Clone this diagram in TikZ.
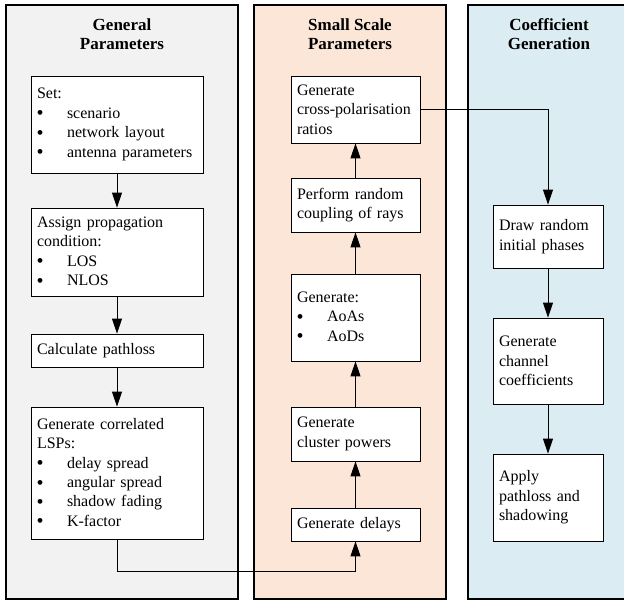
\documentclass[tikz,border=0pt]{standalone}
\usepackage{fontspec}
\setmainfont{Liberation Serif}
\usetikzlibrary{arrows.meta}
\definecolor{panelgray}{RGB}{242,242,242}
\definecolor{panelpeach}{RGB}{251,230,216}
\definecolor{panelblue}{RGB}{219,237,243}
% bullet entry with a fixed indent
\newcommand{\bitem}[1]{\makebox[30pt][l]{\hspace{-0.5pt}\raisebox{-1.6pt}{\fontsize{20}{0}\selectfont\textbullet}}#1}

\begin{document}
\begin{tikzpicture}[x=1pt,y=-1pt,
  panel/.style={draw=black, line width=1.1pt},
  title/.style={font=\fontsize{17}{19.5}\selectfont\bfseries, align=center},
  stepbox/.style={draw=black, fill=white, line width=0.8pt,
    font=\fontsize{16}{19.4}\selectfont, align=left, inner sep=0pt},
  leftbox/.style={stepbox, minimum width=172pt, text width=160pt},
  midbox/.style={stepbox, minimum width=129pt, text width=117pt},
  rightbox/.style={stepbox, minimum width=110pt, text width=98pt},
  flow/.style={line width=0.9pt, -{Triangle[length=15pt,width=10pt]}},
  link/.style={line width=0.8pt}
]
\useasboundingbox (0,0) rectangle (624,604);

% column panels
\filldraw[panel, fill=panelgray]  (6,5)   rectangle (238,599);
\filldraw[panel, fill=panelpeach] (254,5) rectangle (446,599);
\filldraw[panel, fill=panelblue]  (468,5) rectangle (640,599);

% panel titles
\node[title] (t1) at (122,34) {General\\Parameters};
\node[title] (t2) at (350,34) {Small Scale\\Parameters};
\node[title] (t3) at (549,34) {Coefficient\\Generation};

% general parameters
\node[leftbox, minimum height=97pt] (set) at (117,124.5)
  {Set:\\\bitem{scenario}\\\bitem{network layout}\\\bitem{antenna parameters}};
\node[leftbox, minimum height=88pt] (assign) at (117,252)
  {Assign propagation\\condition:\\\bitem{LOS}\\\bitem{NLOS}};
\node[leftbox, minimum height=33pt] (pathloss) at (117,350.5)
  {Calculate pathloss};
\node[leftbox, minimum height=132pt] (lsp) at (117,473)
  {Generate correlated\\LSPs:\\\bitem{delay spread}\\\bitem{angular spread}\\\bitem{shadow fading}\\\bitem{K-factor}};

% small scale parameters
\node[midbox, minimum height=67pt] (xpol) at (355.5,109.5)
  {Generate\\cross-polarisation\\ratios};
\node[midbox, minimum height=54pt] (coupling) at (355.5,205)
  {Perform random\\coupling of rays};
\node[midbox, minimum height=87pt] (aoa) at (355.5,317.5)
  {Generate:\\\bitem{AoAs}\\\bitem{AoDs}};
\node[midbox, minimum height=54pt] (powers) at (355.5,434)
  {Generate\\cluster powers};
\node[midbox, minimum height=33pt] (delays) at (355.5,524.5)
  {Generate delays};

% coefficient generation
\node[rightbox, minimum height=63pt] (phases) at (548,236.5)
  {Draw random\\initial phases};
\node[rightbox, minimum height=86pt] (coeff) at (548,361)
  {Generate\\channel\\coefficients};
\node[rightbox, minimum height=87pt] (apply) at (548,497.5)
  {Apply\\pathloss and\\shadowing};

% connectors
\coordinate (lspturn) at (117,571);
\coordinate (xpolturn) at (548,109.5);

\draw[flow] (set) -- (assign);
\draw[flow] (assign) -- (pathloss);
\draw[flow] (pathloss) -- (lsp);
\draw[flow] (lsp.south) -- (lspturn) -| (delays.south);

\draw[flow] (delays) -- (powers);
\draw[flow] (powers) -- (aoa);
\draw[flow] (aoa) -- (coupling);
\draw[flow] (coupling) -- (xpol);
\draw[flow] (xpol.east) -- (xpolturn) -- (phases.north);

\draw[flow] (phases) -- (coeff);
\draw[flow] (coeff) -- (apply);
\end{tikzpicture}
\end{document}
